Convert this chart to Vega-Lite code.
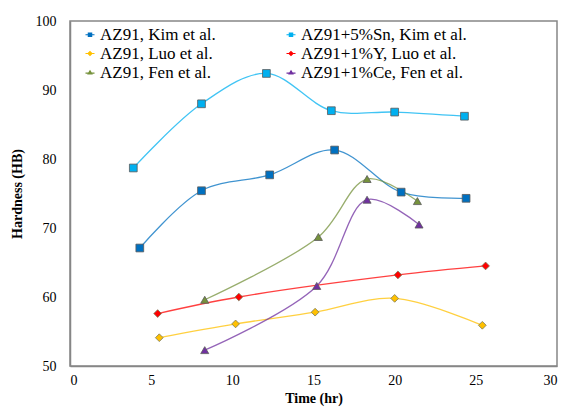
{
  "$schema": "https://vega.github.io/schema/vega-lite/v6.json",
  "width": 487,
  "height": 345,
  "autosize": {"type": "none"},
  "padding": {"left": 70, "top": 21, "right": 16, "bottom": 48},
  "background": "white",
  "config": {
    "font": "Liberation Serif",
    "view": {"stroke": "#868686", "strokeWidth": 1.5},
    "axis": {"grid": false, "ticks": false, "domainColor": "#868686", "domainWidth": 1.5,
      "labelFont": "Liberation Serif", "labelFontSize": 14, "labelColor": "#000",
      "titleFont": "Liberation Serif", "titleFontSize": 14, "titleFontWeight": "bold", "titleColor": "#000"},
    "legend": {"labelFont": "Liberation Serif"}
  },
  "data": {"values": [
    {"series": "AZ91, Kim et al.", "time": 4.3, "hardness": 67.1},
    {"series": "AZ91, Kim et al.", "time": 8.1, "hardness": 75.4},
    {"series": "AZ91, Kim et al.", "time": 12.3, "hardness": 77.7},
    {"series": "AZ91, Kim et al.", "time": 16.3, "hardness": 81.3},
    {"series": "AZ91, Kim et al.", "time": 20.4, "hardness": 75.2},
    {"series": "AZ91, Kim et al.", "time": 24.4, "hardness": 74.3},
    {"series": "AZ91+5%Sn, Kim et al.", "time": 3.9, "hardness": 78.7},
    {"series": "AZ91+5%Sn, Kim et al.", "time": 8.1, "hardness": 88.0},
    {"series": "AZ91+5%Sn, Kim et al.", "time": 12.1, "hardness": 92.4},
    {"series": "AZ91+5%Sn, Kim et al.", "time": 16.1, "hardness": 87.0},
    {"series": "AZ91+5%Sn, Kim et al.", "time": 20.0, "hardness": 86.8},
    {"series": "AZ91+5%Sn, Kim et al.", "time": 24.3, "hardness": 86.2},
    {"series": "AZ91, Luo et al.", "time": 5.5, "hardness": 54.1},
    {"series": "AZ91, Luo et al.", "time": 10.2, "hardness": 56.1},
    {"series": "AZ91, Luo et al.", "time": 15.1, "hardness": 57.8},
    {"series": "AZ91, Luo et al.", "time": 20.0, "hardness": 59.8},
    {"series": "AZ91, Luo et al.", "time": 25.4, "hardness": 55.9},
    {"series": "AZ91+1%Y, Luo et al.", "time": 5.4, "hardness": 57.6},
    {"series": "AZ91+1%Y, Luo et al.", "time": 10.4, "hardness": 60.0},
    {"series": "AZ91+1%Y, Luo et al.", "time": 20.2, "hardness": 63.2},
    {"series": "AZ91+1%Y, Luo et al.", "time": 25.6, "hardness": 64.5},
    {"series": "AZ91, Fen et al.", "time": 8.3, "hardness": 59.6},
    {"series": "AZ91, Fen et al.", "time": 15.3, "hardness": 68.7},
    {"series": "AZ91, Fen et al.", "time": 18.3, "hardness": 77.1},
    {"series": "AZ91, Fen et al.", "time": 21.4, "hardness": 73.9},
    {"series": "AZ91+1%Ce, Fen et al.", "time": 8.3, "hardness": 52.3},
    {"series": "AZ91+1%Ce, Fen et al.", "time": 15.2, "hardness": 61.6},
    {"series": "AZ91+1%Ce, Fen et al.", "time": 18.3, "hardness": 74.1},
    {"series": "AZ91+1%Ce, Fen et al.", "time": 21.5, "hardness": 70.5}
  ]},
  "encoding": {
    "x": {"field": "time", "type": "quantitative", "title": "Time (hr)",
      "scale": {"domain": [0, 30], "nice": false},
      "axis": {"values": [0, 5, 10, 15, 20, 25, 30], "labelPadding": 7, "titlePadding": 4}},
    "y": {"field": "hardness", "type": "quantitative", "title": "Hardness (HB)",
      "scale": {"domain": [50, 100], "nice": false, "zero": false},
      "axis": {"values": [50, 60, 70, 80, 90, 100], "labelPadding": 14, "titlePadding": 11}},
    "color": {"field": "series", "type": "nominal", "title": null,
      "scale": {"domain": ["AZ91, Kim et al.", "AZ91+5%Sn, Kim et al.", "AZ91, Luo et al.", "AZ91+1%Y, Luo et al.", "AZ91, Fen et al.", "AZ91+1%Ce, Fen et al."],
        "range": ["#0070C0", "#00B0F0", "#FFC000", "#FF0000", "#76923C", "#7030A0"]},
      "legend": {
        "orient": "none", "legendX": 11.5, "legendY": 5, "columns": 2, "columnPadding": 66,
        "direction": "horizontal", "labelLimit": 300,
        "rowPadding": 1, "labelFontSize": 17, "labelColor": "#000",
        "symbolSize": 36, "labelOffset": 1.5, "padding": 0,
        "encode": {"symbols": {"update": {
          "shape": {"signal": "indexof(datum.value,'Kim')>=0 ? 'M-1.5,0H1.5M-0.55,-0.55H0.55V0.55H-0.55Z' : indexof(datum.value,'Luo')>=0 ? 'M-1.5,0H1.5M0,-0.65L0.65,0L0,0.65L-0.65,0Z' : 'M-1.5,0.2H1.5M0,-0.55L0.6,0.45H-0.6Z'"},
          "stroke": {"signal": "scale('color', datum.value)"},
          "fill": {"signal": "scale('color', datum.value)"},
          "strokeWidth": {"value": 1.2},
          "opacity": {"value": 1}
        }}}}}
  },
  "layer": [
    {
      "mark": {"type": "line", "interpolate": "catmull-rom", "strokeWidth": 1.3, "strokeOpacity": 0.75}
    },
    {
      "transform": [{"filter": "indexof(datum.series, 'Kim') >= 0"}],
      "mark": {"type": "point", "shape": "square", "filled": true, "size": 60, "opacity": 1, "stroke": "#5a5a5a", "strokeWidth": 0.8}
    },
    {
      "transform": [{"filter": "indexof(datum.series, 'Luo') >= 0"}],
      "mark": {"type": "point", "shape": "diamond", "filled": true, "size": 60, "opacity": 1, "stroke": "#7a7a5a", "strokeWidth": 0.8}
    },
    {
      "transform": [{"filter": "indexof(datum.series, 'Fen') >= 0"}],
      "mark": {"type": "point", "shape": "triangle-up", "filled": true, "size": 65, "opacity": 1, "stroke": "#5a5a5a", "strokeWidth": 0.8}
    }
  ]
}
